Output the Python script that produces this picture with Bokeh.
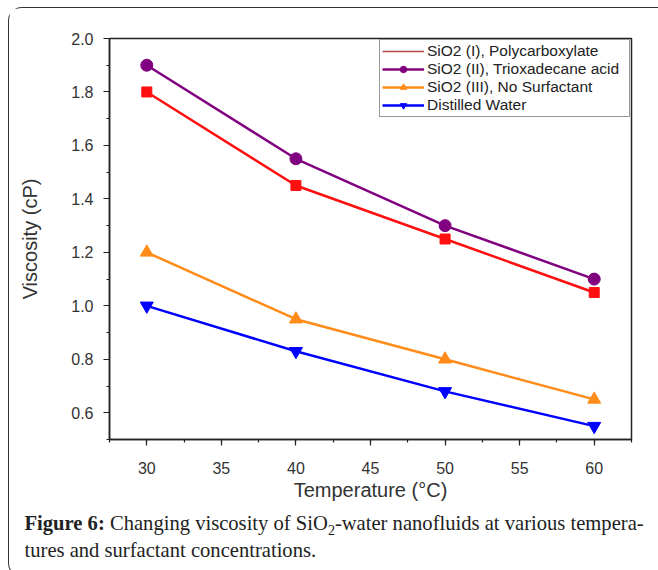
from bokeh.plotting import figure
from bokeh.layouts import column
from bokeh.models import (Range1d, FixedTicker, Legend, LegendItem, Div,
                          ColumnDataSource, NumeralTickFormatter)
from bokeh.embed import file_html
from bokeh.resources import INLINE

# ---- data ----
temperature = [30, 40, 50, 60]
sio2_I_polycarboxylate = [1.80, 1.45, 1.25, 1.05]
sio2_II_trioxadecane = [1.90, 1.55, 1.30, 1.10]
sio2_III_no_surfactant = [1.20, 0.95, 0.80, 0.65]
distilled_water = [1.00, 0.83, 0.68, 0.55]

series_labels = ["SiO2 (I), Polycarboxylate", "SiO2 (II), Trioxadecane acid",
                 "SiO2 (III), No Surfactant", "Distilled Water"]
x_ticks = [30, 35, 40, 45, 50, 55, 60]
y_ticks = [0.6, 0.8, 1.0, 1.2, 1.4, 1.6, 1.8, 2.0]

caption_bold = "Figure 6:"
caption_line1 = "Changing viscosity of SiO<span style='font-size:14px;position:relative;top:5px'>2</span>-water nanofluids at various tempera-"
caption_line2 = "tures and surfactant concentrations."

RED = "#ff1010"
PURPLE = "#800080"
ORANGE = "#ff8c1a"
BLUE = "#0000ff"

X0, X1, Y0, Y1 = 27.5, 62.5, 0.5, 2.0
W, H = 646, 497
ML, MR, MT, MB = 100, 24, 30, 66

p = figure(width=W, height=H, output_backend="svg", toolbar_location=None,
           x_range=Range1d(X0, X1), y_range=Range1d(Y0, Y1),
           min_border_left=ML, min_border_right=MR, min_border_top=MT,
           min_border_bottom=MB)
p.xgrid.visible = False
p.ygrid.visible = False
p.outline_line_color = "#222222"
p.outline_line_width = 1.5
p.background_fill_color = "white"
p.border_fill_color = "white"

x_minor = [27.5 + 2.5 * i for i in range(15)]
y_minor = [0.5 + 0.1 * i for i in range(16)]
p.xaxis.ticker = FixedTicker(ticks=x_ticks, minor_ticks=x_minor)
p.yaxis.ticker = FixedTicker(ticks=y_ticks, minor_ticks=y_minor)
p.yaxis.formatter = NumeralTickFormatter(format="0.0")

for ax in (p.xaxis, p.yaxis):
    ax.axis_line_color = "#222222"
    ax.axis_line_width = 1.5
    ax.major_tick_line_color = "#222222"
    ax.minor_tick_line_color = "#222222"
    ax.major_tick_line_width = 1.2
    ax.minor_tick_line_width = 1.2
    ax.major_tick_in = 0
    ax.major_tick_out = 6
    ax.minor_tick_in = 0
    ax.minor_tick_out = 3
    ax.major_label_text_font = "Liberation Sans"
    ax.major_label_text_font_size = "16px"
    ax.major_label_text_color = "#333333"
    ax.axis_label_text_font = "Liberation Sans"
    ax.axis_label_text_font_size = "20px"
    ax.axis_label_text_font_style = "normal"
    ax.axis_label_text_color = "#333333"

p.xaxis.axis_label = "Temperature (°C)"
p.yaxis.axis_label = "Viscosity (cP)"
p.xaxis.major_label_standoff = 16
p.xaxis.axis_label_standoff = 2
p.yaxis.major_label_standoff = 10
p.yaxis.axis_label_standoff = 27

# ---- series ----
src = ColumnDataSource(dict(t=temperature, s1=sio2_I_polycarboxylate,
                            s2=sio2_II_trioxadecane, s3=sio2_III_no_surfactant,
                            w=distilled_water))

# thin dark-red line used as the legend glyph of series I (hidden under the thick line)
leg1 = p.line("t", "s1", source=src, line_color="#b44848", line_width=1.3)
l1 = p.line("t", "s1", source=src, line_color=RED, line_width=2.5)
m1 = p.scatter("t", "s1", source=src, marker="square", size=10,
               fill_color=RED, line_color=RED)
l2 = p.line("t", "s2", source=src, line_color=PURPLE, line_width=2.5)
m2 = p.scatter("t", "s2", source=src, marker="circle", size=12,
               fill_color=PURPLE, line_color=PURPLE)
l3 = p.line("t", "s3", source=src, line_color=ORANGE, line_width=2.5)
m3 = p.scatter("t", "s3", source=src, marker="triangle", size=13,
               fill_color=ORANGE, line_color=ORANGE)
l4 = p.line("t", "w", source=src, line_color=BLUE, line_width=2.5)
m4 = p.scatter("t", "w", source=src, marker="inverted_triangle", size=13,
               fill_color=BLUE, line_color=BLUE)

legend = Legend(items=[
    LegendItem(label=series_labels[0], renderers=[leg1]),
    LegendItem(label=series_labels[1], renderers=[l2, m2]),
    LegendItem(label=series_labels[2], renderers=[l3, m3]),
    LegendItem(label=series_labels[3], renderers=[l4, m4]),
], location="top_right")
legend.margin = 1
legend.padding = 2
legend.spacing = 0
legend.glyph_width = 42
legend.glyph_height = 16
legend.label_height = 18
legend.label_width = 200
legend.label_standoff = 3
legend.label_text_font = "Liberation Sans"
legend.label_text_font_size = "15.5px"
legend.label_text_color = "#222222"
legend.border_line_color = "#333333"
legend.border_line_width = 1
legend.background_fill_alpha = 1.0
p.add_layout(legend)

# ---- caption ----
cap = Div(text=f"<b>{caption_bold}</b> {caption_line1}<br>{caption_line2}",
          width=W, height=61,
          styles={"font-family": "'Liberation Serif', serif",
                  "font-size": "20.6px", "line-height": "25px",
                  "color": "#222222", "white-space": "nowrap",
                  "padding-left": "10.5px", "padding-top": "1px",
                  "box-sizing": "border-box", "overflow": "hidden"})

layout = column(p, cap, spacing=0, margin=(7, 0, 0, 8),
                styles={"border-left": "1.5px solid #333333",
                        "border-top": "1.5px solid #333333",
                        "border-bottom": "1.5px solid #333333",
                        "border-right": "0px none transparent",
                        "border-top-left-radius": "14px",
                        "border-bottom-left-radius": "14px"})

open("out.html", "w").write(file_html(layout, INLINE))
